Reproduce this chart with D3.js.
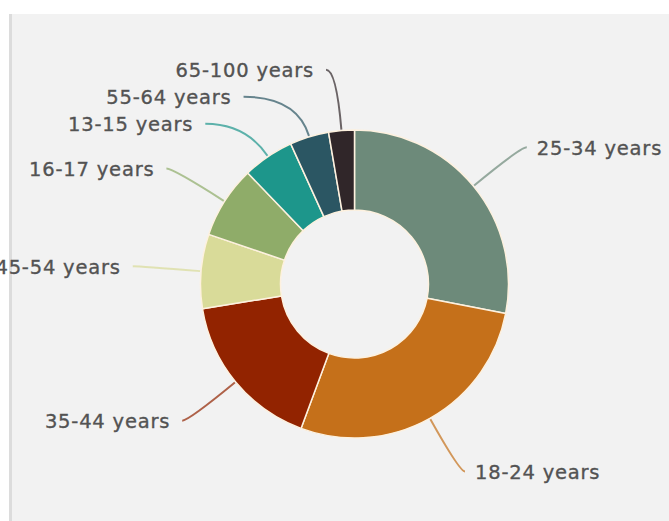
<!DOCTYPE html>
<html>
<head>
<meta charset="utf-8">
<script src="https://cdn.jsdelivr.net/npm/d3@7"></script>
<style>
  html, body { margin: 0; padding: 0; background: #ffffff; }
  svg { display: block; }
</style>
</head>
<body>
<svg id="chart" width="669" height="521"></svg>
<script>
// Age groups, clockwise from 12 o'clock
const categories = ["25-34 years", "18-24 years", "35-44 years", "45-54 years",
                    "16-17 years", "13-15 years", "55-64 years", "65-100 years"];
// Share of respondents, percent
const shares = [28.1, 27.6, 16.8, 7.8, 7.6, 5.4, 4.1, 2.7];
const colours = ["#6d8a7a", "#c5701a", "#922300", "#d9db99",
                 "#8fac69", "#1d968b", "#2b5663", "#302629"];

const W = 669, H = 521;
const cx = 354.5, cy = 284;
const outerR = 154, innerR = 74;

const svg = d3.select("#chart");

// page frame: white margin, thin rule, grey panel
svg.append("rect").attr("x", 0).attr("y", 0).attr("width", W).attr("height", H).attr("fill", "#ffffff");
svg.append("rect").attr("x", 9).attr("y", 14).attr("width", W - 9).attr("height", H - 14).attr("fill", "#f2f2f2");
svg.append("rect").attr("x", 9).attr("y", 14).attr("width", 3).attr("height", H - 14).attr("fill", "#dcdcdc");

const data = categories.map((c, i) => ({ label: c, value: shares[i], colour: colours[i] }));

const pie = d3.pie().sort(null).value(d => d.value);
const arcs = pie(data);
const arc = d3.arc().innerRadius(innerR).outerRadius(outerR);

const g = svg.append("g").attr("transform", `translate(${cx},${cy})`);

g.selectAll("path.slice")
  .data(arcs)
  .enter().append("path")
  .attr("class", "slice")
  .attr("d", arc)
  .attr("fill", d => d.data.colour)
  .attr("stroke", "#fdf1df")
  .attr("stroke-width", 1.5)
  .attr("stroke-linejoin", "round");

// label layout: place on an elliptical ring, then push crowded labels apart vertically
const ringX = 222.5, ringY = 216, startR = 215, gap = 27;
const labels = arcs.map(d => {
  const a = (d.startAngle + d.endAngle) / 2;
  return { d, a, side: Math.sin(a) >= 0 ? 1 : -1, y: -startR * Math.cos(a) };
});
[1, -1].forEach(side => {
  const group = labels.filter(l => l.side === side).sort((p, q) => p.y - q.y);
  for (let i = 1; i < group.length; i++) {
    if (group[i].y < group[i - 1].y + gap) group[i].y = group[i - 1].y + gap;
  }
});
labels.forEach(l => {
  const k = l.y / ringY;
  l.x = l.side * ringX * Math.sqrt(Math.max(0, 1 - k * k));
});

// curved connectors: leave the slice radially, arrive at the label horizontally
const connector = l => {
  const dx = Math.sin(l.a), dy = -Math.cos(l.a);
  const p0 = [dx * (outerR + 1), dy * (outerR + 1)];
  const p1 = [l.x, l.y];
  let c;
  const t = Math.abs(dy) > 1e-3 ? (p1[1] - p0[1]) / dy : -1;
  if (t > 0) {
    let cxp = p0[0] + t * dx;
    const lo = Math.min(p0[0], p1[0]), hi = Math.max(p0[0], p1[0]);
    cxp = Math.max(lo, Math.min(hi, cxp));
    c = [cxp, p1[1]];
  } else {
    c = [(p0[0] + p1[0]) / 2, p1[1]];
  }
  const path = d3.path();
  path.moveTo(p0[0], p0[1]);
  path.quadraticCurveTo(c[0], c[1], p1[0], p1[1]);
  return path.toString();
};

g.selectAll("path.leader")
  .data(labels)
  .enter().append("path")
  .attr("class", "leader")
  .attr("d", connector)
  .attr("fill", "none")
  .attr("stroke", l => l.d.data.colour)
  .attr("stroke-opacity", 0.7)
  .attr("stroke-width", 2);

g.selectAll("text.lbl")
  .data(labels)
  .enter().append("text")
  .attr("class", "lbl")
  .attr("x", l => l.x + (l.side > 0 ? 10 : -12))
  .attr("y", l => l.y + 7.5)
  .attr("text-anchor", l => l.side > 0 ? "start" : "end")
  .attr("font-family", "'DejaVu Sans', sans-serif")
  .attr("font-size", 19.5)
  .attr("letter-spacing", 0.8)
  .attr("fill", "#535353")
  .attr("stroke", "#535353")
  .attr("stroke-width", 0.35)
  .text(l => l.d.data.label);
</script>
</body>
</html>
